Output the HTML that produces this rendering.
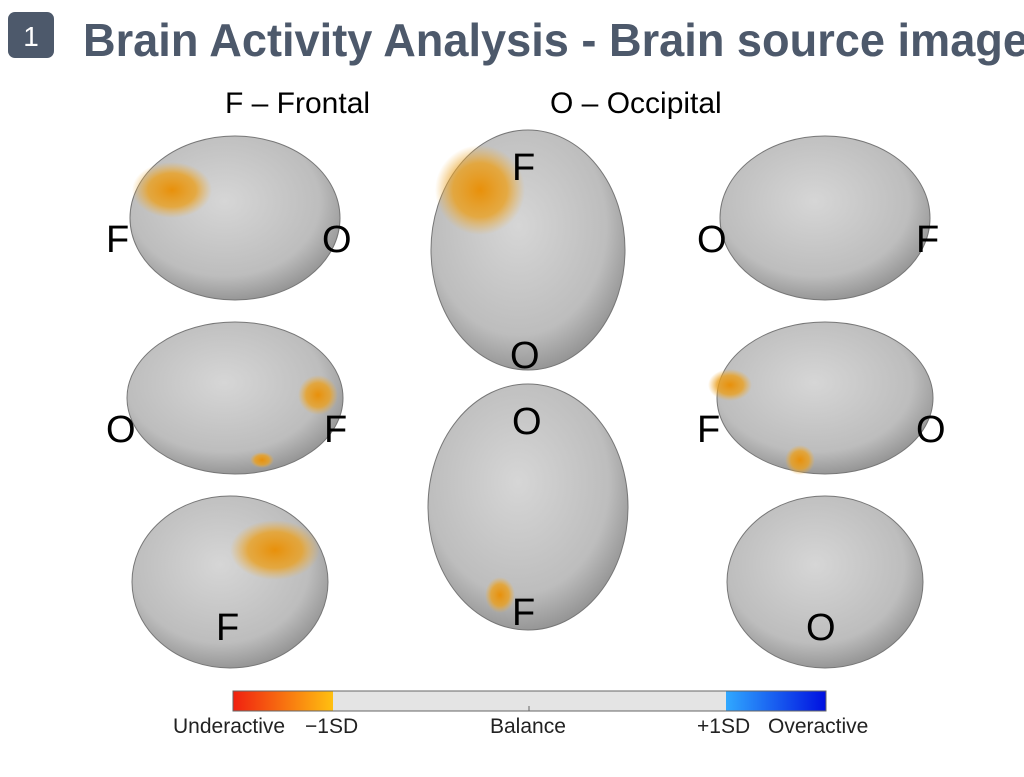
<!DOCTYPE html>
<html><head><meta charset="utf-8"><style>
html,body{margin:0;padding:0;background:#fff;width:1024px;height:777px;overflow:hidden}
svg{display:block}
text{font-family:"Liberation Sans",sans-serif}
</style></head><body>
<svg width="1024" height="777" viewBox="0 0 1024 777" xmlns="http://www.w3.org/2000/svg">
<defs>
<radialGradient id="g" cx="45%" cy="40%" r="65%">
<stop offset="0" stop-color="#d6d6d6"/><stop offset="0.7" stop-color="#bdbdbd"/><stop offset="1" stop-color="#8a8a8a"/>
</radialGradient>
<radialGradient id="o" cx="50%" cy="50%" r="50%">
<stop offset="0" stop-color="#e8900a"/><stop offset="0.6" stop-color="#eaa020" stop-opacity="0.8"/><stop offset="1" stop-color="#f0b040" stop-opacity="0"/>
</radialGradient>
<linearGradient id="red" x1="0" x2="1"><stop offset="0" stop-color="#f02010"/><stop offset="1" stop-color="#ffc010"/></linearGradient>
<linearGradient id="blue" x1="0" x2="1"><stop offset="0" stop-color="#30a8ff"/><stop offset="1" stop-color="#0010e0"/></linearGradient>
</defs>
<rect x="8" y="12" width="46" height="46" rx="7" fill="#4d596b"/>
<text x="31" y="46" font-size="28" fill="#fff" text-anchor="middle">1</text>
<text x="83" y="56" font-size="46" font-weight="bold" fill="#4d596b" textLength="945" lengthAdjust="spacingAndGlyphs">Brain Activity Analysis - Brain source image</text>
<text x="225" y="113" font-size="30">F – Frontal</text>
<text x="550" y="113" font-size="30">O – Occipital</text>
<g stroke="#777" stroke-width="1">
<ellipse cx="235" cy="218" rx="105" ry="82" fill="url(#g)"/>
<ellipse cx="528" cy="250" rx="97" ry="120" fill="url(#g)"/>
<ellipse cx="825" cy="218" rx="105" ry="82" fill="url(#g)"/>
<ellipse cx="235" cy="398" rx="108" ry="76" fill="url(#g)"/>
<ellipse cx="528" cy="507" rx="100" ry="123" fill="url(#g)"/>
<ellipse cx="825" cy="398" rx="108" ry="76" fill="url(#g)"/>
<ellipse cx="230" cy="582" rx="98" ry="86" fill="url(#g)"/>
<ellipse cx="825" cy="582" rx="98" ry="86" fill="url(#g)"/>
</g>
<ellipse cx="172" cy="190" rx="40" ry="28" fill="url(#o)"/>
<ellipse cx="480" cy="190" rx="45" ry="45" fill="url(#o)"/>
<ellipse cx="318" cy="395" rx="20" ry="20" fill="url(#o)"/>
<ellipse cx="730" cy="385" rx="22" ry="16" fill="url(#o)"/>
<ellipse cx="800" cy="460" rx="15" ry="15" fill="url(#o)"/>
<ellipse cx="275" cy="550" rx="45" ry="30" fill="url(#o)"/>
<ellipse cx="500" cy="595" rx="15" ry="18" fill="url(#o)"/>
<ellipse cx="262" cy="460" rx="12" ry="8" fill="url(#o)"/>
<g font-size="38">
<text x="106" y="252">F</text><text x="322" y="252">O</text>
<text x="512" y="180">F</text><text x="510" y="368">O</text>
<text x="697" y="252">O</text><text x="916" y="252">F</text>
<text x="106" y="442">O</text><text x="324" y="442">F</text>
<text x="512" y="434">O</text><text x="512" y="625">F</text>
<text x="697" y="442">F</text><text x="916" y="442">O</text>
<text x="216" y="640">F</text><text x="806" y="640">O</text>
</g>
<rect x="233" y="691" width="100" height="20" fill="url(#red)"/>
<rect x="333" y="691" width="393" height="20" fill="#e4e4e4"/>
<rect x="726" y="691" width="100" height="20" fill="url(#blue)"/>
<rect x="233" y="691" width="593" height="20" fill="none" stroke="#666" stroke-width="1"/>
<line x1="529" y1="706" x2="529" y2="711" stroke="#666"/>
<g font-size="21" fill="#222">
<text x="173" y="733">Underactive</text>
<text x="305" y="733">−1SD</text>
<text x="490" y="733">Balance</text>
<text x="697" y="733">+1SD</text>
<text x="768" y="733">Overactive</text>
</g>
</svg>
</body></html>
